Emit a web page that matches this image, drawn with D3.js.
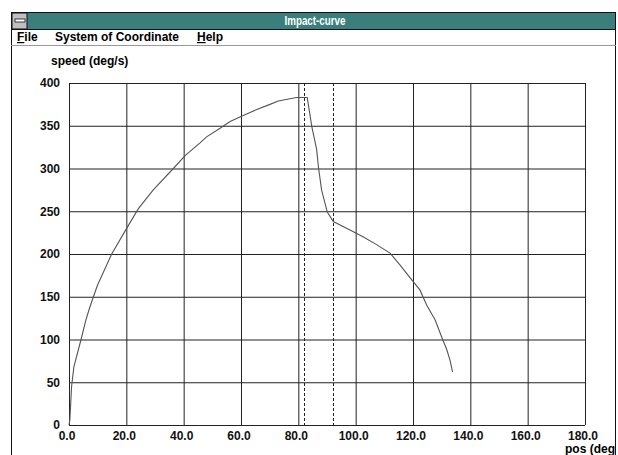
<!DOCTYPE html>
<html>
<head>
<meta charset="utf-8">
<script src="https://cdn.jsdelivr.net/npm/d3@7"></script>
<style>
  body { margin: 0; background: #fff; }
  text { font-family: "Liberation Sans", Arial, sans-serif; }
</style>
</head>
<body>
<svg id="chart" width="618" height="455"></svg>
<script>
// ---- data ----
const pos   = [0, 0.3, 0.9, 1.7, 4.2, 5.9, 7.1, 8.3, 10, 14.9, 20.1, 24.2, 29.4, 36.4, 40.5, 45.7, 48, 52.7, 56.2, 60.2, 65.5, 70.1, 73, 79.4, 83.1,
               84.7, 86.4, 87, 88.1, 90.1, 92.2, 99.2, 102.7, 107.3, 112, 115.5, 119.5, 122.4, 124.8, 127.7, 130, 131.8, 132.9, 133.8];
const speed = [0, 6, 45, 68, 100, 123, 136, 148, 164, 200, 230, 253, 275, 300, 315, 330, 337, 347, 355, 361, 369, 375, 379, 383, 383,
               349, 322, 302, 275, 249, 238, 226, 220, 211, 201, 187, 170, 158, 140, 123, 103, 88, 76, 62];
const markers = [82, 92];                 // dashed vertical marks (deg)
const xTicks = d3.range(0, 181, 20);      // 0.0 .. 180.0
const yTicks = d3.range(0, 401, 50);      // 0 .. 400
const title = "Impact-curve";
const menus = ["File", "System of Coordinate", "Help"];
const yLabel = "speed (deg/s)", xLabel = "pos (deg)";

const svg = d3.select('#chart');
const FONT = '"Liberation Sans", Arial, sans-serif';

// ---- window frame ----
const winL = 11, winR = 616, barTop = 12, barBot = 29, menuBot = 45;
svg.append('rect').attr('x', winL + 0.5).attr('y', barTop + 0.5).attr('width', winR - winL - 1).attr('height', barBot - barTop)
  .attr('fill', '#3a7f7c').attr('stroke', '#111').attr('stroke-width', 1);
svg.append('rect').attr('x', winL + 1).attr('y', barTop + 1).attr('width', 15).attr('height', barBot - barTop - 1)
  .attr('fill', '#c0c0c0').attr('stroke', '#111');
svg.append('rect').attr('x', winL + 4).attr('y', barTop + 7).attr('width', 10).attr('height', 3)
  .attr('fill', '#fff').attr('stroke', '#111').attr('stroke-width', 0.8);
svg.append('text').text(title).attr('x', 315).attr('y', barTop + 13).attr('text-anchor', 'middle')
  .attr('fill', '#fff').style('font-size', '13px').style('font-weight', 'bold')
  .attr('textLength', 61).attr('lengthAdjust', 'spacingAndGlyphs');

// borders of window body
svg.append('line').attr('x1', winL + 0.5).attr('x2', winL + 0.5).attr('y1', barBot).attr('y2', 455).attr('stroke', '#111');
svg.append('line').attr('x1', winR - 0.5).attr('x2', winR - 0.5).attr('y1', barBot).attr('y2', 455).attr('stroke', '#111');
svg.append('line').attr('x1', winL).attr('x2', winR).attr('y1', menuBot + 0.5).attr('y2', menuBot + 0.5).attr('stroke', '#999');

// menu
const menuX = [17, 55, 197];
menus.forEach((m, i) => {
  const t = svg.append('text').attr('x', menuX[i]).attr('y', 41).style('font-size', '12px').style('font-weight', 'bold');
  if (i !== 1) {
    t.append('tspan').text(m[0]).style('text-decoration', 'underline');
    t.append('tspan').text(m.slice(1));
  } else t.text(m);
});

// ---- chart ----
const x = d3.scaleLinear([0, 180], [69, 585]);
const y = d3.scaleLinear([0, 400], [425, 83]);

svg.append('clipPath').attr('id', 'client').append('rect')
  .attr('x', winL + 1).attr('y', menuBot + 1).attr('width', winR - winL - 2).attr('height', 455);

// grid via axes
svg.append('g').attr('transform', `translate(0,${y(0)})`)
  .call(d3.axisBottom(x).tickValues(xTicks).tickSize(-(y(0) - y(400))).tickFormat(d3.format('.1f')).tickPadding(6))
  .call(g => g.select('.domain').remove())
  .call(g => g.selectAll('line').attr('stroke', '#222'))
  .call(g => g.selectAll('text').attr('fill', '#111').attr('dx', -2.5).style('font-size', '12px').style('font-weight', 'bold')
    .style('font-family', FONT));

svg.append('g').attr('transform', `translate(${x(0)},0)`)
  .call(d3.axisLeft(y).tickValues(yTicks).tickSize(-(x(180) - x(0))).tickPadding(9))
  .call(g => g.select('.domain').remove())
  .call(g => g.selectAll('line').attr('stroke', '#222'))
  .call(g => g.selectAll('text').attr('fill', '#111').style('font-size', '12px').style('font-weight', 'bold')
    .style('font-family', FONT));

// dashed markers
svg.selectAll('line.marker').data(markers).enter().append('line').attr('class', 'marker')
  .attr('x1', d => Math.round(x(d)) + 0.5).attr('x2', d => Math.round(x(d)) + 0.5)
  .attr('y1', y(400)).attr('y2', y(0))
  .attr('stroke', '#222').attr('stroke-dasharray', '3,2');

// curve
const pts = pos.map((p, i) => [p, speed[i]]);
svg.append('path').datum(pts)
  .attr('d', d3.line().x(d => x(d[0])).y(d => y(d[1])))
  .attr('fill', 'none').attr('stroke', '#555').attr('stroke-width', 1.1);

// axis titles
svg.append('text').text(yLabel).attr('x', 51).attr('y', 65).style('font-size', '12px').style('font-weight', 'bold');
svg.append('g').attr('clip-path', 'url(#client)')
  .append('text').text(xLabel).attr('x', 565).attr('y', 453)
  .style('font-size', '12px').style('font-weight', 'bold');
</script>
</body>
</html>
